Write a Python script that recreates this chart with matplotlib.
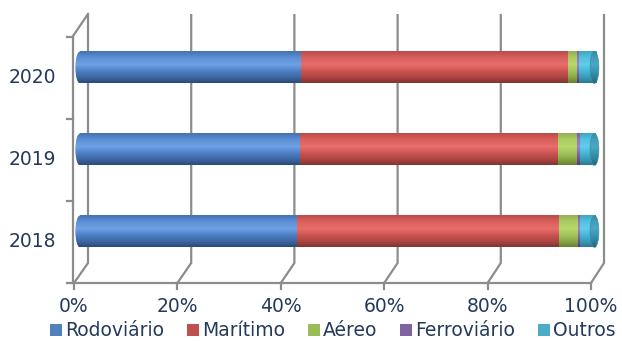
import numpy as np
import matplotlib
matplotlib.use("Agg")
import matplotlib.pyplot as plt
from matplotlib.patches import Patch, Ellipse
from matplotlib.colors import to_rgb
from matplotlib.transforms import offset_copy

# Share of each transport mode per year (%)
years = ["2018", "2019", "2020"]
modes = ["Rodoviário", "Marítimo", "Aéreo", "Ferroviário", "Outros"]
rodoviario = [42.1, 42.6, 42.8]
maritimo = [50.7, 50.0, 51.8]
aereo = [3.7, 3.7, 1.7]
ferroviario = [0.4, 0.6, 0.4]
outros = [3.1, 3.1, 3.3]
series = [rodoviario, maritimo, aereo, ferroviario, outros]

tick_values = [0, 20, 40, 60, 80, 100]
tick_labels = ["0%", "20%", "40%", "60%", "80%", "100%"]

# legend colours and cylinder shading (dark rim, body, highlight)
colors = ["#4F81BD", "#C0504D", "#9BBB59", "#8064A2", "#4BACC6"]
dark = ["#2c4a78", "#823331", "#66822f", "#4f3a72", "#2a7a92"]
body = ["#4a7cc2", "#c9524f", "#a0c05a", "#8466aa", "#45b4d4"]
light = ["#6ea2e6", "#e86e6b", "#b8d86c", "#a084cc", "#62cdec"]
text_color = "#243a5c"
grid_color = "#8c8c8c"

W, H = 622, 341
fig = plt.figure(figsize=(W / 100, H / 100), dpi=100)
plt.rcParams["font.family"] = ["DejaVu Sans"]

# Background layer in pixel units for the 3D walls and floor
bg = fig.add_axes([0, 0, 1, 1], zorder=0)
bg.set_xlim(0, W)
bg.set_ylim(H, 0)
bg.axis("off")

back_x0, back_x1 = 88, 604
front_x0, front_x1 = 74, 591
wall_top, wall_bottom, floor_y = 14, 263, 283


def back_x(v):
    return back_x0 + (back_x1 - back_x0) * v / 100


def front_x(v):
    return front_x0 + (front_x1 - front_x0) * v / 100


lw = 1.6
for v, lab in zip(tick_values, tick_labels):
    bx, fx = back_x(v), front_x(v)
    bg.plot([bx, bx, fx], [wall_top, wall_bottom, floor_y], color=grid_color, lw=lw,
            solid_joinstyle="miter", solid_capstyle="butt")
    bg.plot([fx, fx], [floor_y, floor_y + 6], color=grid_color, lw=lw)
    bg.text(fx, 306, lab, ha="center", va="center", fontsize=13.5, color=text_color)

# floor front edge
bg.plot([front_x0 - 1, front_x1], [floor_y, floor_y], color=grid_color, lw=lw)
# left wall front edge and its top
bg.plot([back_x0, 73, 73], [wall_top, 36, floor_y], color=grid_color, lw=lw,
        solid_joinstyle="miter")
for ty in [37, 119, 201, 283]:
    bg.plot([67, 73], [ty, ty], color=grid_color, lw=lw)

# Bars: 0..100 spans pixels 80..596, with a small margin for the rounded ends
px_per_unit = 516 / 100
margin = 1.6
ax = fig.add_axes([(80 - margin * px_per_unit) / W, (H - 272.5) / H,
                   (100 + 2 * margin) * px_per_unit / W, 246 / H], zorder=1)
ax.patch.set_alpha(0)
ax.axis("off")

bar_h = 0.39
t = np.linspace(0, 1, 64)


def shaded(d, b, h):
    d, b, h = (np.array(to_rgb(c)) for c in (d, b, h))
    stops_t = [0.0, 0.15, 0.35, 0.58, 0.8, 1.0]
    stops_c = [d, 0.5 * d + 0.5 * b, b, h, 0.5 * h + 0.5 * b, 0.92 * b]
    rows = np.stack([np.interp(t, stops_t, [c[k] for c in stops_c]) for k in range(3)], axis=1)
    return np.clip(rows, 0, 1)[:, None, :]


ypos = np.arange(len(years))
left = np.zeros(len(years))
for vals, d, b, h in zip(series, dark, body, light):
    img = shaded(d, b, h)
    for i, v in enumerate(vals):
        ax.imshow(img, extent=[left[i], left[i] + v, ypos[i] - bar_h / 2, ypos[i] + bar_h / 2],
                  origin="lower", aspect="auto", interpolation="bilinear", zorder=3)
    left += np.array(vals)

blue_img = shaded(dark[0], body[0], light[0])
cap_img = shaded("#23677c", "#3794b0", "#4aa8c2")
for i in ypos:
    # rounded left side of the cylinder
    e = Ellipse((0, i), 1.8, bar_h, facecolor="none", edgecolor="none", zorder=2)
    ax.add_patch(e)
    im = ax.imshow(blue_img, extent=[-0.9, 0.3, i - bar_h / 2, i + bar_h / 2],
                   origin="lower", aspect="auto", interpolation="bilinear", zorder=2)
    im.set_clip_path(e)
    # visible right end face
    cap = Ellipse((left[i] - 0.3, i), 1.7, bar_h, facecolor="none", edgecolor="#3a8ea8",
                  lw=0.5, zorder=5)
    ax.add_patch(cap)
    im2 = ax.imshow(cap_img, extent=[left[i] - 1.2, left[i] + 0.6, i - bar_h / 2, i + bar_h / 2],
                    origin="lower", aspect="auto", interpolation="bilinear", zorder=4)
    im2.set_clip_path(cap)

ax.set_xlim(-margin, 100 + margin)
ax.set_ylim(-0.5, 2.5)

lab_tr = offset_copy(ax.get_yaxis_transform(), fig=fig, x=-24 + margin * px_per_unit,
                     y=-10, units="dots")
for i, y in enumerate(years):
    ax.text(0, i, y, transform=lab_tr, ha="right", va="center", fontsize=13.5,
            color=text_color, clip_on=False)

handles = [Patch(facecolor=c, edgecolor="none") for c in colors]
fig.legend(handles, modes, loc="center", bbox_to_anchor=(333 / W, 1 - 331 / H),
           ncol=5, frameon=False, fontsize=13.5, labelcolor=text_color,
           handlelength=0.62, handleheight=0.62, handletextpad=0.2,
           columnspacing=1.2, borderaxespad=0, borderpad=0)

fig.savefig("out.png", dpi=100)
